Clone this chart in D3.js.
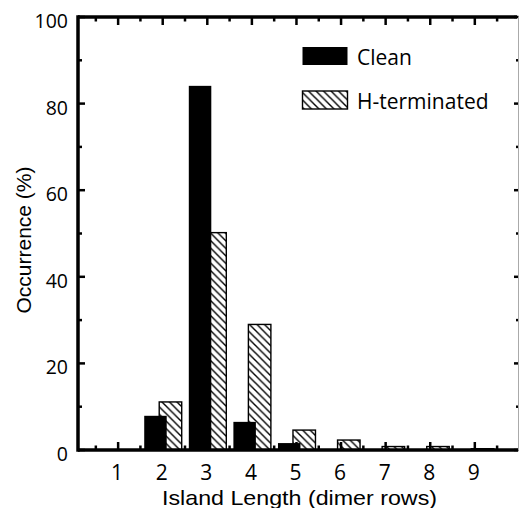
<!DOCTYPE html>
<html>
<head>
<meta charset="utf-8">
<script src="https://cdn.jsdelivr.net/npm/d3@7"></script>
<style>
    body { margin: 0; background: #fff; }
    svg { display: block; }
</style>
</head>
<body>
<div id="content"></div>
<script>
// ******* DATA *******
const islandLengths = [1, 2, 3, 4, 5, 6, 7, 8, 9];
const cleanValues = [0, 7.9, 84.1, 6.5, 1.6, 0, 0, 0, 0];
const hTerminatedValues = [0, 11.1, 50.2, 29, 4.6, 2.3, 0.8, 0.8, 0.3];
const seriesNames = ["Clean", "H-terminated"];
const yTickValues = [0, 20, 40, 60, 80, 100];

// ******* LAYOUT *******
const chartWidth = 519, chartHeight = 508;
const plotLeft = 78, plotRight = 519.4, plotTop = 17, plotBottom = 450;

const svg = d3.select("#content").append("svg")
    .attr("width", chartWidth)
    .attr("height", chartHeight);

// hatch pattern, lines going down to the right
const defs = svg.append("defs");
const hatch = defs.append("pattern")
    .attr("id", "hatch")
    .attr("patternUnits", "userSpaceOnUse")
    .attr("width", 7.5)
    .attr("height", 7.5);
hatch.append("rect").attr("width", 7.5).attr("height", 7.5).attr("fill", "#fff");
hatch.append("path")
    .attr("d", "M-1,-1 L8.5,8.5 M-1,6.5 L1,8.5 M6.5,-1 L8.5,1")
    .attr("stroke", "#000")
    .attr("stroke-width", 1.4);

// ******* SCALES *******
const x = d3.scaleLinear().domain([0.1, 10]).range([plotLeft, plotRight]);
const y = d3.scaleLinear().domain([0, 100]).range([plotBottom, plotTop]);

// ******* BARS *******
const barWidth = 22.5;
const bars = svg.append("g").attr("id", "bars");

// hatched first, clean drawn on top
bars.selectAll(".hterm")
    .data(islandLengths.map((d, i) => ({ len: d, v: hTerminatedValues[i] })).filter(d => d.v > 0))
    .join("rect")
    .attr("class", "hterm")
    .attr("x", d => x(d.len) - 3.5)
    .attr("y", d => y(d.v))
    .attr("width", barWidth)
    .attr("height", d => y(0) - y(d.v))
    .attr("fill", "url(#hatch)")
    .attr("stroke", "#000")
    .attr("stroke-width", 1.4);

bars.selectAll(".clean")
    .data(islandLengths.map((d, i) => ({ len: d, v: cleanValues[i] })).filter(d => d.v > 0))
    .join("rect")
    .attr("class", "clean")
    .attr("x", d => x(d.len) - 18.5)
    .attr("y", d => y(d.v))
    .attr("width", barWidth)
    .attr("height", d => y(0) - y(d.v))
    .attr("fill", "#000");

// ******* FRAME + TICKS *******
const frame = svg.append("g").attr("id", "frame");
const xMajor = d3.range(1, 10);
const xMinor = d3.range(0.5, 10, 1);
const yMinor = d3.range(10, 100, 20);

// bottom + top ticks (inward)
[[plotBottom, -1], [plotTop, 1]].forEach(([yy, dir]) => {
    frame.selectAll(null).data(xMajor).join("line")
        .attr("x1", d => x(d)).attr("x2", d => x(d))
        .attr("y1", yy).attr("y2", yy + dir * 8)
        .attr("stroke", "#000").attr("stroke-width", 2.5);
    frame.selectAll(null).data(xMinor).join("line")
        .attr("x1", d => x(d)).attr("x2", d => x(d))
        .attr("y1", yy).attr("y2", yy + dir * 4.5)
        .attr("stroke", "#000").attr("stroke-width", 2.5);
});

// left ticks
frame.selectAll(null).data(yTickValues).join("line")
    .attr("x1", plotLeft).attr("x2", plotLeft + 7)
    .attr("y1", d => y(d)).attr("y2", d => y(d))
    .attr("stroke", "#000").attr("stroke-width", 2.5);
frame.selectAll(null).data(yMinor).join("line")
    .attr("x1", plotLeft).attr("x2", plotLeft + 4)
    .attr("y1", d => y(d)).attr("y2", d => y(d))
    .attr("stroke", "#000").attr("stroke-width", 2.5);

// right ticks (short, pointing left)
frame.selectAll(null).data(yTickValues.concat(yMinor)).join("line")
    .attr("x1", 518.5).attr("x2", d => yTickValues.includes(d) ? 514 : 516)
    .attr("y1", d => y(d)).attr("y2", d => y(d))
    .attr("stroke", "#000").attr("stroke-width", 2.5);

// axis lines
frame.append("line").attr("x1", plotLeft).attr("x2", 517).attr("y1", plotTop).attr("y2", plotTop)
    .attr("stroke", "#000").attr("stroke-width", 3.5);
frame.append("line").attr("x1", plotLeft).attr("x2", 518).attr("y1", plotBottom).attr("y2", plotBottom)
    .attr("stroke", "#000").attr("stroke-width", 3.5);
frame.append("line").attr("x1", plotLeft).attr("x2", plotLeft).attr("y1", plotTop - 1.7).attr("y2", plotBottom + 1.7)
    .attr("stroke", "#000").attr("stroke-width", 3.5);
frame.append("line").attr("x1", 518.5).attr("x2", 518.5).attr("y1", plotTop).attr("y2", plotBottom)
    .attr("stroke", "#aaa").attr("stroke-width", 1);

// ******* LABELS *******
const tickFont = "'Open Sans', sans-serif";
const titleFont = "'Liberation Sans', Arial, sans-serif";

svg.append("g").selectAll("text").data(yTickValues).join("text")
    .attr("x", 68)
    .attr("y", d => y(d) + 11)
    .attr("text-anchor", "end")
    .attr("font-family", tickFont)
    .attr("font-size", 19.5)
    .text(d => d);

svg.append("g").selectAll("text").data(islandLengths).join("text")
    .attr("x", d => x(d) - 1)
    .attr("y", 480)
    .attr("text-anchor", "middle")
    .attr("font-family", tickFont)
    .attr("font-size", 21)
    .text(d => d);

svg.append("text")
    .attr("x", 299.5)
    .attr("y", 505)
    .attr("text-anchor", "middle")
    .attr("font-family", titleFont)
    .attr("font-size", 21)
    .attr("textLength", 275)
    .attr("lengthAdjust", "spacingAndGlyphs")
    .text("Island Length (dimer rows)");

svg.append("text")
    .attr("transform", "translate(31,240) rotate(-90)")
    .attr("text-anchor", "middle")
    .attr("font-family", titleFont)
    .attr("font-size", 21)
    .text("Occurrence (%)");

// ******* LEGEND *******
const legend = svg.append("g").attr("id", "legend");
const legendRows = [
    { name: seriesNames[0], y: 47, fill: "#000", stroke: "none" },
    { name: seriesNames[1], y: 91, fill: "url(#hatch)", stroke: "#000" }
];
legendRows.forEach(r => {
    legend.append("rect")
        .attr("x", 302.5).attr("y", r.y)
        .attr("width", 45).attr("height", 18)
        .attr("fill", r.fill)
        .attr("stroke", r.stroke)
        .attr("stroke-width", 1.4);
    legend.append("text")
        .attr("x", 357).attr("y", r.y + 18)
        .attr("font-family", tickFont)
        .attr("font-size", 21)
        .text(r.name);
});
</script>
</body>
</html>
